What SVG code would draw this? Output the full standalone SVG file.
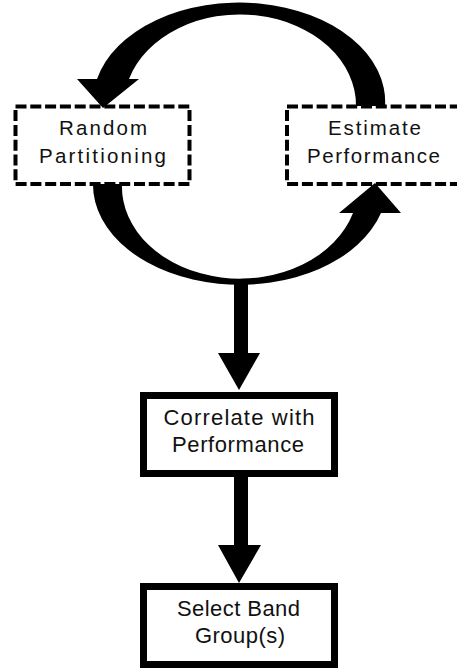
<svg xmlns="http://www.w3.org/2000/svg" width="457" height="668" viewBox="0 0 457 668">
<style>
.dash{fill:#fff;stroke:#000;stroke-width:4;stroke-dasharray:11 3.8}
.solid{fill:#fff;stroke:#000;stroke-width:7}
.lbl{font-family:"Liberation Sans",Arial,sans-serif;font-size:22px;fill:#111;text-anchor:middle}
.sm{font-size:20.5px}
.arr{fill:#000;stroke:none}
</style>
<rect width="457" height="668" fill="#fff"/>
<g id="random-partitioning">
<rect class="dash" x="15.5" y="106.5" width="174" height="77.5"/>
<text class="lbl sm" x="103" y="135" textLength="88" lengthAdjust="spacing">Random</text>
<text class="lbl sm" x="102.5" y="163" textLength="127" lengthAdjust="spacing">Partitioning</text>
</g>
<g id="estimate-performance">
<rect class="dash" x="287" y="106.5" width="174" height="77.5"/>
<text class="lbl sm" x="374.5" y="135" textLength="93" lengthAdjust="spacing">Estimate</text>
<text class="lbl sm" x="373.5" y="163" textLength="133" lengthAdjust="spacing">Performance</text>
</g>
<g id="correlate">
<rect class="solid" x="143.5" y="395.5" width="191" height="78"/>
<text class="lbl" x="239" y="425" textLength="151" lengthAdjust="spacing">Correlate with</text>
<text class="lbl" x="238" y="452" textLength="132" lengthAdjust="spacing">Performance</text>
</g>
<g id="select">
<rect class="solid" x="143.5" y="586.5" width="191" height="78"/>
<text class="lbl" x="238.5" y="616" textLength="123" lengthAdjust="spacing">Select Band</text>
<text class="lbl" x="240" y="643" textLength="90" lengthAdjust="spacing">Group(s)</text>
</g>
<g id="connectors">
<path class="arr" d="M385,106 A146,99 0 0 0 97,79 L77,79 L103,108 L139,79 L129,79 A116,91 0 0 1 356,106 Z"/>
<path class="arr" d="M93,184 A147,100 0 0 0 381,213 L401,213 L375,183 L339,213 L353,213 A118,92 0 0 1 122,184 Z"/>
<path class="arr" d="M234,280 L248,280 L248,353 L260,353 L239,390 L218,353 L234,353 Z"/>
<path class="arr" d="M234,476 L248,476 L248,545 L261,545 L239,583 L218,545 L234,545 Z"/>
</g>
</svg>
